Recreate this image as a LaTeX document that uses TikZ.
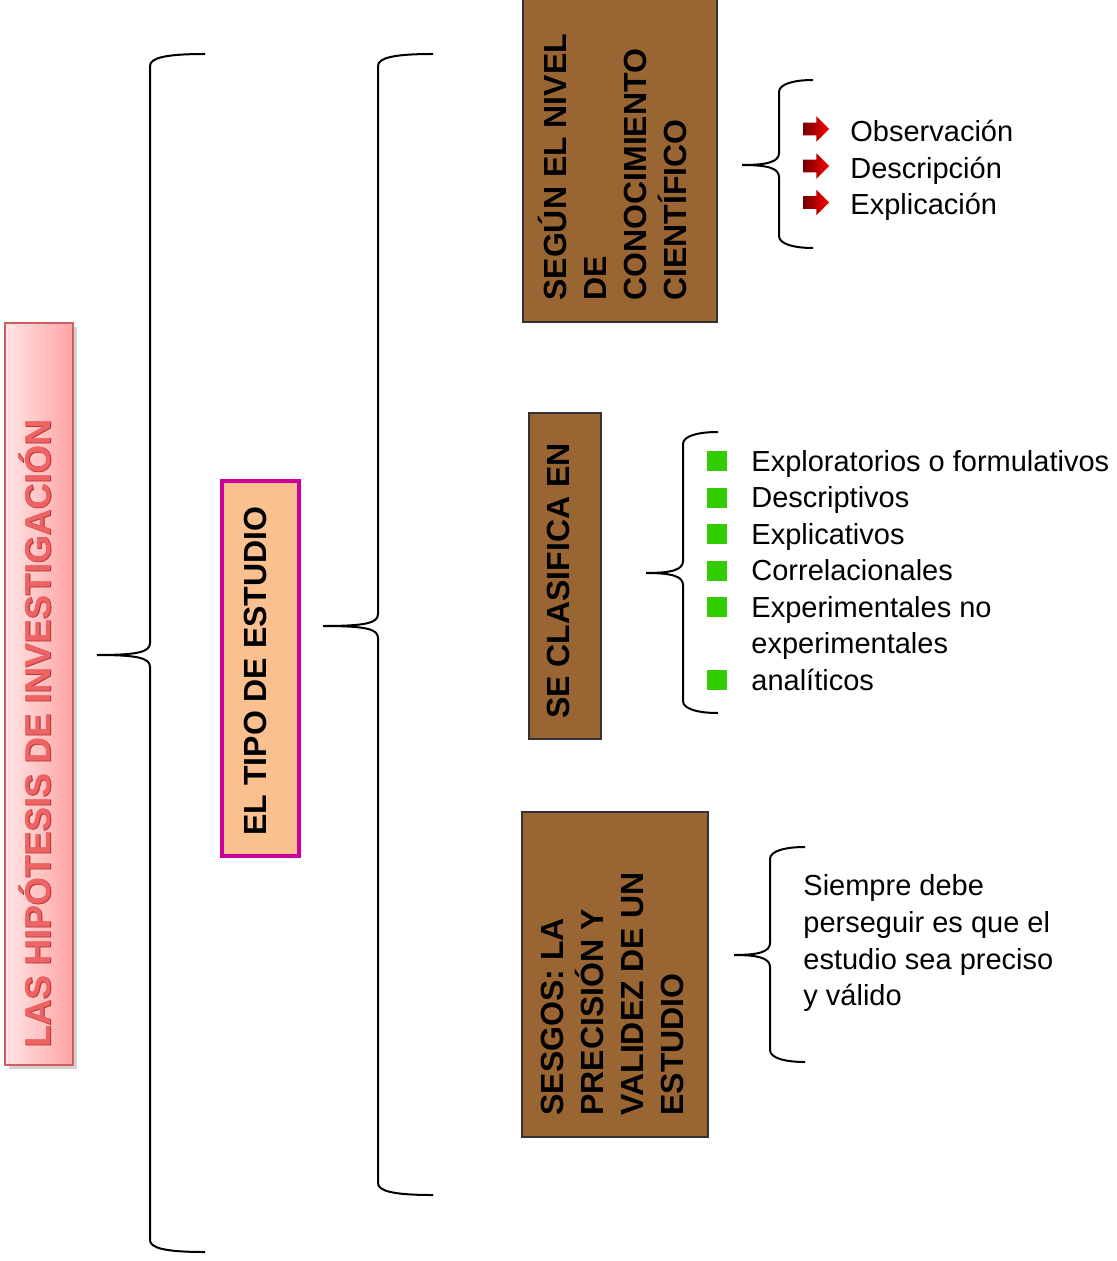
\documentclass[tikz,border=0pt]{standalone}
\usepackage{fontspec}
\setmainfont{Liberation Sans}
\newfontfamily\titulofont[FakeBold=1.6]{Liberation Sans Bold}
\usepackage{tikz}
\usetikzlibrary{shapes.arrows,shadows}

\definecolor{cafe}{HTML}{996633}
\definecolor{durazno}{HTML}{FAC090}
\definecolor{fucsia}{HTML}{CC0099}
\definecolor{verde}{HTML}{33CC00}
\definecolor{rosa}{HTML}{FFE6E6}
\definecolor{rosaoscuro}{HTML}{FFA3A3}
\definecolor{rojotitulo}{HTML}{EE6464}
\definecolor{rojoborde}{HTML}{B83838}
\definecolor{bordetitulo}{HTML}{D06060}

% llave: punta x, punta y, linea x, extremo x, arriba y, abajo y
\newcommand{\llave}[6]{%
    \draw[line width=1pt] (#4,#5) .. controls (#3+15,#5) and (#3,#5+4) .. (#3,#5+12)
        -- (#3,#2-12) .. controls (#3,#2-3) and (#3-12,#2) .. (#1,#2)
        .. controls (#3-12,#2) and (#3,#2+3) .. (#3,#2+12)
        -- (#3,#6-12) .. controls (#3,#6-4) and (#3+15,#6) .. (#4,#6);}

\begin{document}
\begin{tikzpicture}[
        x=0.5pt, y=-0.5pt,
        caja/.style={draw=black!80, line width=1pt, fill=cafe, rotate=90, inner sep=0pt},
        textocaja/.style={rotate=90, inner sep=0pt, align=left, font=\fontsize{16}{20}\selectfont\bfseries},
        item/.style={anchor=base west, inner sep=0pt, font=\fontsize{14.5}{18.3}\selectfont},
        flecha/.style={single arrow, single arrow head extend=3.25pt, minimum height=13pt, minimum width=12.5pt, inner sep=3pt, left color=red!45!black, right color=red},
        cuadro/.style={fill=verde, minimum size=10pt, inner sep=0pt},
        titulotexto/.style={rotate=90, inner sep=0pt, font=\fontsize{18}{20}\selectfont}
    ]
    \useasboundingbox (0,0) rectangle (1116,1261);

    % titulo
    \node[draw=bordetitulo, line width=1pt, left color=rosa, right color=rosaoscuro,
        drop shadow={shadow xshift=2pt, shadow yshift=-2pt, opacity=0.35},
        minimum width=34pt, minimum height=371pt, inner sep=0pt] (titulo) at (39,694) {};
    \node[titulotexto, text=rojoborde] (tituloborde) at (35,733.5) {\titulofont LAS HIPÓTESIS DE INVESTIGACIÓN};
    \node[titulotexto, text=rojotitulo] (titulotexto) at (35,733.5) {\bfseries LAS HIPÓTESIS DE INVESTIGACIÓN};

    \llave{97}{655}{150}{205}{54}{1252}

    % el tipo de estudio
    \node[draw=fucsia, line width=2pt, fill=durazno, rotate=90, minimum width=187.5pt, minimum height=38.5pt, inner sep=0pt] (tipo) at (260.5,668.5) {};
    \node[textocaja] (tipotexto) at (255,671) {EL TIPO DE ESTUDIO};

    \llave{323}{626}{378}{433}{54}{1195}

    % cajas cafe
    \node[caja, minimum width=171pt, minimum height=97pt] (nivel) at (620,151) {};
    \node[textocaja, anchor=west] (niveltexto) at (612,301) {SEGÚN EL NIVEL\\DE\\CONOCIMIENTO\\CIENTÍFICO};

    \node[caja, minimum width=163pt, minimum height=36pt] (clasifica) at (565,576) {};
    \node[textocaja] (clasificatexto) at (558,581) {SE CLASIFICA EN};

    \node[caja, minimum width=162.5pt, minimum height=93pt] (sesgos) at (615,974.5) {};
    \node[textocaja, anchor=west] (sesgostexto) at (612,1116) {SESGOS: LA\\PRECISIÓN Y\\VALIDEZ DE UN\\ESTUDIO};

    % nivel de conocimiento
    \llave{742}{165}{779}{813}{80}{248}
    \node[flecha] (f1) at (813,129) {};
    \node[flecha] (f2) at (813,166) {};
    \node[flecha] (f3) at (813,202.5) {};
    \node[item] (obs) at (850,142) {Observación};
    \node[item] (desc) at (850,178.5) {Descripción};
    \node[item] (expl) at (850,215) {Explicación};

    % clasificacion
    \llave{646}{573}{683}{718}{432}{713}
    \node[cuadro] (c1) at (717,461) {};
    \node[cuadro] (c2) at (717,497.5) {};
    \node[cuadro] (c3) at (717,534) {};
    \node[cuadro] (c4) at (717,570.5) {};
    \node[cuadro] (c5) at (717,607) {};
    \node[cuadro] (c6) at (717,680) {};
    \node[item] (explor) at (751,471) {Exploratorios o formulativos};
    \node[item] (descr) at (751,507.5) {Descriptivos};
    \node[item] (explic) at (751,544) {Explicativos};
    \node[item] (correl) at (751,580.5) {Correlacionales};
    \node[item] (exper) at (751,617) {Experimentales no};
    \node[item] (experb) at (751,653.5) {experimentales};
    \node[item] (analit) at (751,690) {analíticos};

    % sesgos
    \llave{734}{955}{770}{805}{847}{1062}
    \node[item, anchor=north west, align=left] (siempre) at (803,874.5) {Siempre debe\\perseguir es que el\\estudio sea preciso\\y válido};
\end{tikzpicture}
\end{document}
